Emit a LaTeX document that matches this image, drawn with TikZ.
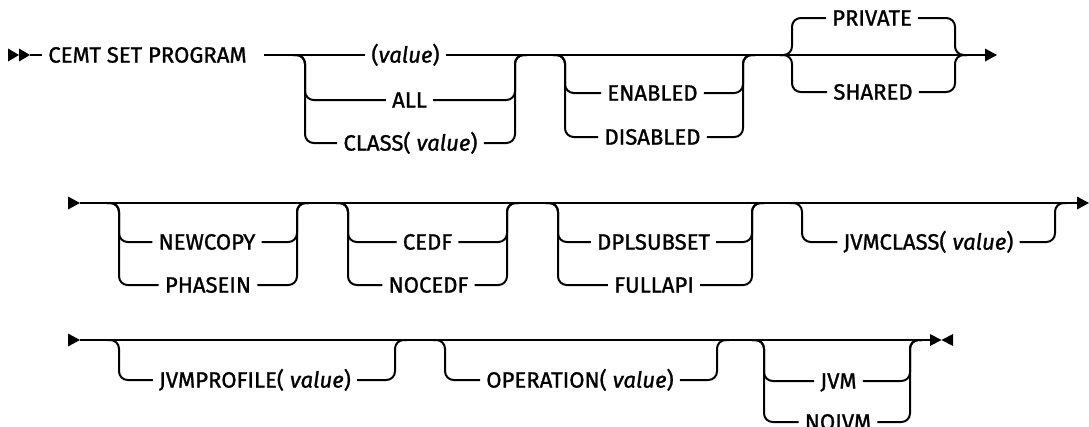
\documentclass[tikz,border=0pt]{standalone}
\usepackage{fontspec}
\setmainfont{Fira Sans}[UprightFeatures={FakeBold=1.2},ItalicFeatures={FakeBold=1.2}]

\begin{document}
\begin{tikzpicture}[x=0.75pt,y=-0.75pt,
  rail/.style={line width=1.5pt,rounded corners=6.5pt},
  kw/.style={font=\fontsize{16.6}{19}\selectfont,inner xsep=4.5pt,inner ysep=0pt,text height=11.4pt,text depth=0pt}]
\useasboundingbox (0,0) rectangle (1089,426);
% first line
\coordinate (s1) at (30,55);
\coordinate (e1) at (985,55);
\coordinate (g1l) at (305,55);
\coordinate (g1r) at (515,55);
\coordinate (g2l) at (565,55);
\coordinate (g2r) at (743,55);
\coordinate (g3l) at (792,55);
\coordinate (g3r) at (955,55);
\node[kw] (cmd) at (147.5,55) {CEMT SET PROGRAM};
\node[kw] (val) at (405.5,55) {(\textit{value})};
\node[kw] (all) at (409.5,100) {ALL};
\node[kw] (cls) at (410.5,143) {CLASS( \textit{value})};
\node[kw] (enab) at (652.5,93) {ENABLED};
\node[kw] (disab) at (652.5,137) {DISABLED};
\node[kw] (priv) at (872,18) {PRIVATE};
\node[kw] (shar) at (873,92) {SHARED};
\fill (8,48.5) -- (19,55) -- (8,61.5) -- cycle;
\fill (19,48.5) -- (s1) -- (19,61.5) -- cycle;
\draw[rail] (s1) -- (cmd.west);
\draw[rail] ([xshift=8pt]cmd.east) -- (val.west);
\draw[rail] (val.east) -- (e1);
\fill (e1) ++(0,-6.5) -- ++(12,6.5) -- ++(-12,6.5) -- cycle;
% second line
\coordinate (s2) at (80,203);
\coordinate (e2) at (1077,203);
\coordinate (gal) at (119,203);
\coordinate (gar) at (297,203);
\coordinate (gbl) at (348,203);
\coordinate (gbr) at (507,203);
\coordinate (gcl) at (558,203);
\coordinate (gcr) at (752,203);
\coordinate (gdl) at (802,203);
\coordinate (gdr) at (1055,203);
\node[kw] (newc) at (207,242) {NEWCOPY};
\node[kw] (phas) at (208,285) {PHASEIN};
\node[kw] (cedf) at (427.5,242) {CEDF};
\node[kw] (nocedf) at (428.5,285) {NOCEDF};
\node[kw] (dpl) at (653.5,242) {DPLSUBSET};
\node[kw] (full) at (654,285) {FULLAPI};
\node[kw] (jcls) at (928.5,242) {JVMCLASS( \textit{value})};
\fill (s2) -- ++(-12,-6.5) -- ++(0,13) -- cycle;
\draw[rail] (s2) -- (e2);
\fill (e2) ++(0,-6.5) -- ++(12,6.5) -- ++(-12,6.5) -- cycle;
% third line
\coordinate (s3) at (80,340);
\coordinate (e3) at (930,340);
\coordinate (gel) at (119,340);
\coordinate (ger) at (395,340);
\coordinate (gfl) at (445,340);
\coordinate (gfr) at (717,340);
\coordinate (ggl) at (764,340);
\coordinate (ggr) at (910,340);
\node[kw] (jprof) at (255,380) {JVMPROFILE( \textit{value})};
\node[kw] (oper) at (580,380) {OPERATION( \textit{value})};
\node[kw] (jvm) at (838.5,381) {JVM};
\node[kw] (nojvm) at (838,422) {NOJVM};
\fill (s3) -- ++(-12,-6.5) -- ++(0,13) -- cycle;
\draw[rail] (s3) -- (e3);
\fill (e3) ++(0,-6) -- ++(11.5,6) -- ++(-11.5,6) -- cycle;
\fill (e3) ++(23,-6) -- ++(-11.5,6) -- ++(11.5,6) -- cycle;
% branches
\foreach \nd/\gl/\gr in {all/g1l/g1r,cls/g1l/g1r,enab/g2l/g2r,disab/g2l/g2r,
    priv/g3l/g3r,shar/g3l/g3r,newc/gal/gar,phas/gal/gar,cedf/gbl/gbr,
    nocedf/gbl/gbr,dpl/gcl/gcr,full/gcl/gcr,jcls/gdl/gdr,jprof/gel/ger,
    oper/gfl/gfr,jvm/ggl/ggr,nojvm/ggl/ggr}
  \draw[rail] ([xshift=-9pt]\gl) -| (\gl |- \nd.west) -- (\nd.west)
    (\nd.east) -| (\gr) -- ([xshift=9pt]\gr);
\end{tikzpicture}
\end{document}
